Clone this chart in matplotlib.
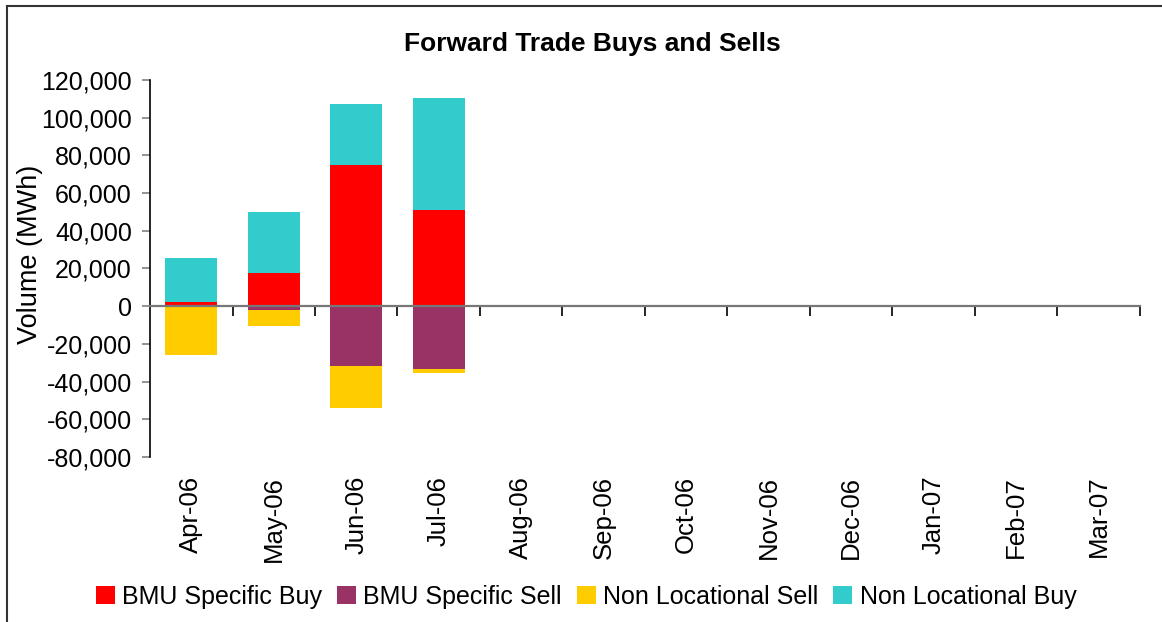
import numpy as np
import matplotlib
matplotlib.use("Agg")
from matplotlib import pyplot as plt
from matplotlib.lines import Line2D
from matplotlib.ticker import FuncFormatter
from matplotlib.transforms import blended_transform_factory

plt.rcParams['font.family'] = ['Liberation Sans', 'DejaVu Sans']

months = ['Apr-06', 'May-06', 'Jun-06', 'Jul-06', 'Aug-06', 'Sep-06',
          'Oct-06', 'Nov-06', 'Dec-06', 'Jan-07', 'Feb-07', 'Mar-07']
bmu_buy = [2300, 17500, 74900, 51000, 0, 0, 0, 0, 0, 0, 0, 0]
nonloc_buy = [23200, 32500, 32400, 59500, 0, 0, 0, 0, 0, 0, 0, 0]
bmu_sell = [0, -2100, -31900, -33500, 0, 0, 0, 0, 0, 0, 0, 0]
nonloc_sell = [-26000, -8500, -22300, -2100, 0, 0, 0, 0, 0, 0, 0, 0]

c_buy = '#FF0000'
c_sell = '#993366'
c_nsell = '#FFCC00'
c_nbuy = '#33CCCC'

fig = plt.figure(figsize=(11.62, 6.22), dpi=100)
ax = fig.add_axes([0.1291, 0.2653, 0.981 - 0.1291, 0.8714 - 0.2653])

x = np.arange(len(months))
w = 0.63
ax.bar(x, bmu_buy, w, color=c_buy, label='BMU Specific Buy')
ax.bar(x, bmu_sell, w, color=c_sell, label='BMU Specific Sell')
ax.bar(x, nonloc_sell, w, bottom=bmu_sell, color=c_nsell, label='Non Locational Sell')
ax.bar(x, nonloc_buy, w, bottom=bmu_buy, color=c_nbuy, label='Non Locational Buy')

ax.set_xlim(-0.5, len(months) - 0.5)
ax.set_ylim(-80000, 120000)
ax.set_yticks(np.arange(-80000, 120001, 20000))
ax.yaxis.set_major_formatter(FuncFormatter(lambda v, p: f'{int(v):,}'))
ax.tick_params(axis='y', labelsize=18, length=6, width=1.2, color='#808080', pad=7)

for s in ['top', 'right']:
    ax.spines[s].set_visible(False)
ax.spines['left'].set_color('black')
ax.spines['left'].set_linewidth(1.2)
ax.spines['bottom'].set_position(('data', 0))
ax.spines['bottom'].set_color('#777777')
ax.spines['bottom'].set_linewidth(1.6)
ax.set_xticks(x + 0.5)
ax.set_xticklabels([])
ax.tick_params(axis='x', length=7, width=1.2, color='black', direction='out')

tr = blended_transform_factory(ax.transData, ax.transAxes)
for i, m in enumerate(months):
    ax.text(i, -0.05, m, transform=tr, rotation=90, ha='center', va='top', fontsize=18.5)

fig.text(30 / 1162, 1 - 254 / 622, 'Volume (MWh)', rotation=90, ha='center', va='center', fontsize=19.5)
fig.text(592 / 1162, 1 - 44 / 622, 'Forward Trade Buys and Sells', ha='center', va='center',
         fontsize=19, fontweight='bold')

fig.legend(loc='center', bbox_to_anchor=(586 / 1162, 1 - 597 / 622), ncol=4, frameon=False,
           fontsize=18, handlelength=0.75, handleheight=0.75, handletextpad=0.3,
           columnspacing=0.6, borderaxespad=0)

fig.add_artist(Line2D([7 / 1162, 7 / 1162], [0, 1 - 6 / 622], transform=fig.transFigure, color='#333333', lw=1.5))
fig.add_artist(Line2D([7 / 1162, 1], [1 - 6 / 622, 1 - 6 / 622], transform=fig.transFigure, color='#333333', lw=1.5))

fig.savefig('out.png', dpi=100)
